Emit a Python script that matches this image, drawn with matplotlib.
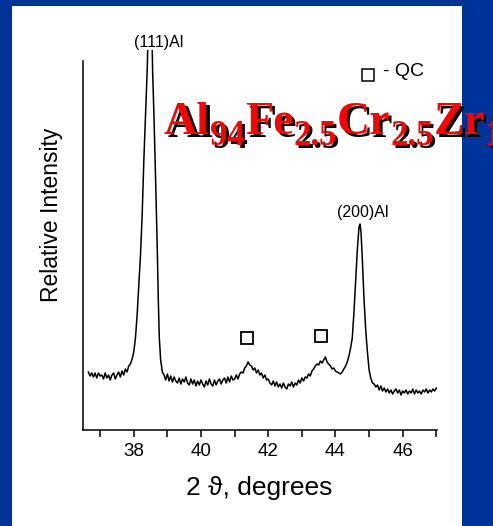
import matplotlib
matplotlib.use('Agg')
import matplotlib.pyplot as plt
from matplotlib.patches import Rectangle

plt.rcParams['font.family'] = ['Liberation Sans', 'DejaVu Sans']

# XRD pattern (intensity in arbitrary units)
two_theta = [
    36.65, 36.70, 36.75, 36.80, 36.85, 36.90, 36.95, 37.00, 37.05, 37.10,
    37.15, 37.20, 37.25, 37.30, 37.35, 37.40, 37.45, 37.50, 37.55, 37.60,
    37.65, 37.70, 37.75, 37.80, 37.85, 37.90, 37.95,
    38.00, 38.05, 38.10, 38.15, 38.20, 38.25, 38.30, 38.35, 38.40, 38.45,
    38.49, 38.53, 38.56, 38.60, 38.65, 38.70, 38.73, 38.76, 38.80, 38.85,
    38.90, 38.95, 39.00, 39.05, 39.10, 39.15, 39.20, 39.25, 39.30, 39.35,
    39.40, 39.45, 39.50, 39.55, 39.60, 39.65, 39.70, 39.75, 39.80, 39.85,
    39.90, 39.95, 40.00, 40.05, 40.10, 40.15, 40.20, 40.25, 40.30, 40.35,
    40.40, 40.45, 40.50, 40.55, 40.60, 40.65, 40.70, 40.75, 40.80, 40.85,
    40.90, 40.95,
    41.00, 41.05, 41.10, 41.15, 41.20, 41.25, 41.30, 41.35, 41.40, 41.45,
    41.50, 41.55, 41.60, 41.65, 41.70, 41.75, 41.80, 41.85, 41.90, 41.95,
    42.00,
    42.05, 42.10, 42.15, 42.20, 42.25, 42.30, 42.35, 42.40, 42.45, 42.50,
    42.55, 42.60, 42.65, 42.70, 42.75, 42.80, 42.85, 42.90, 42.95, 43.00,
    43.05, 43.10,
    43.15, 43.20, 43.25, 43.30, 43.35, 43.40, 43.45, 43.50, 43.55, 43.60,
    43.65, 43.70, 43.75, 43.80, 43.85, 43.90, 43.95, 44.00, 44.05, 44.10,
    44.15,
    44.20, 44.25, 44.30, 44.35, 44.40, 44.45, 44.50, 44.55, 44.60, 44.65,
    44.70, 44.73, 44.76, 44.80, 44.85, 44.90, 44.95, 45.00, 45.05, 45.10,
    45.15, 45.20, 45.25, 45.30, 45.35, 45.40, 45.45, 45.50, 45.55, 45.60,
    45.65, 45.70, 45.75, 45.80, 45.85, 45.90, 45.95, 46.00, 46.05, 46.10,
    46.15, 46.20, 46.25, 46.30, 46.35, 46.40, 46.45, 46.50, 46.55, 46.60,
    46.65, 46.70, 46.75, 46.80, 46.85, 46.90, 46.95, 47.00,
]
intensity = [
    58, 54, 57, 53, 57, 52, 57, 54, 55, 51,
    57, 52, 55, 50, 55, 57, 51, 55, 58, 53,
    59, 55, 61, 58, 64, 66, 71,
    78, 92, 115, 145, 175, 215, 270, 315, 360, 430,
    520, 420, 360, 315, 250, 180, 130, 92, 70, 58,
    55, 50, 56, 49, 54, 48, 53, 49, 47, 52,
    46, 51, 48, 53, 47, 45, 51, 46, 50, 44,
    49, 45, 50, 46, 43, 49, 45, 51, 46, 44,
    50, 45, 49, 51, 46, 50, 52, 47, 53, 48,
    54, 50,
    51, 55, 51, 56, 58, 57, 62, 64, 68, 65,
    64, 60, 62, 57, 60, 55, 57, 52, 55, 50,
    51,
    47, 45, 49, 44, 48, 43, 46, 42, 47, 43,
    41, 46, 44, 48, 43, 47, 45, 50, 47, 52,
    49, 53,
    52, 56, 54, 59, 61, 64, 66, 65, 69, 67,
    70, 73, 68, 66, 64, 61, 62, 59, 58, 57,
    56,
    58, 61, 64, 68, 74, 82, 92, 118, 150, 180,
    203, 206, 198, 170, 130, 100, 78, 60, 52, 47,
    46, 43, 45, 40, 44, 39, 42, 38, 41, 37,
    40, 36, 39, 41, 37, 40, 35, 39, 37, 40,
    36, 39, 37, 41, 36, 40, 37, 39, 36, 40,
    38, 41, 37, 40, 38, 41, 39, 42,
]

qc_x = [41.36, 43.57]
qc_y = [92, 94]

peak_labels = ['(111)Al', '(200)Al']
peak_label_x = [38.75, 44.82]
peak_label_y = [387, 218]

# composition: (text, is_subscript)
formula = [('Al', False), ('94', True), ('Fe', False), ('2.5', True),
           ('Cr', False), ('2.5', True), ('Zr', False), ('1', True)]

W, H = 493, 526
fig = plt.figure(figsize=(W / 100, H / 100), dpi=100, facecolor='#003399')

# white slide panel
fig.add_artist(Rectangle((12 / W, 0), 450 / W, 520 / H, transform=fig.transFigure,
                         facecolor='white', edgecolor='none', zorder=-5))

ax = fig.add_axes([83 / W, (H - 430) / H, (437 - 83) / W, (430 - 50) / H])
ax.set_facecolor('none')
ax.plot(two_theta, intensity, color='black', lw=1.1)
ax.plot(qc_x, qc_y, 's', ms=8, mfc='none', mec='black', mew=1.3)

ax.set_xlim(36.49, 47.02)
ax.set_ylim(0, 380)
ax.spines['top'].set_visible(False)
ax.spines['right'].set_visible(False)
ax.spines['left'].set_bounds(0, 369)
for s in ['left', 'bottom']:
    ax.spines[s].set_linewidth(1.1)
ax.set_yticks([])
ax.set_xticks([38, 40, 42, 44, 46])
ax.set_xticks([37, 39, 41, 43, 45, 47], minor=True)
ax.tick_params(axis='x', which='both', direction='out', length=5, width=1.1,
               labelsize=13.5, pad=4)

for lab, lx, ly in zip(peak_labels, peak_label_x, peak_label_y):
    ax.text(lx, ly, lab, ha='center', va='center', fontsize=11.5)

# QC legend
ax.plot([44.96], [355.5], 's', ms=8, mfc='none', mec='black', mew=1.1, clip_on=False)
ax.text(45.4, 358, '- QC', ha='left', va='center', fontsize=14)

fig.text(52 / W, 1 - 214.5 / H, 'Relative Intensity', rotation=90,
         ha='center', va='center', fontsize=16.5)
fig.text(259 / W, 1 - 488 / H, '2 \u03d1, degrees', ha='center', va='center',
         fontsize=19)

# composition title with a drop shadow, running off the slide edge
renderer = fig.canvas.get_renderer()
x = 164
for txt, sub in formula:
    size = 25 if sub else 33
    base = 145 if sub else 134
    kw = dict(fontsize=size, family='Liberation Serif', weight='bold', va='baseline')
    fig.text((x + 3) / W, 1 - (base + 3) / H, txt, color='black', **kw)
    t = fig.text(x / W, 1 - base / H, txt, color='#ff0000', **kw)
    x += t.get_window_extent(renderer).width

fig.savefig('out.png', dpi=100, facecolor=fig.get_facecolor())
